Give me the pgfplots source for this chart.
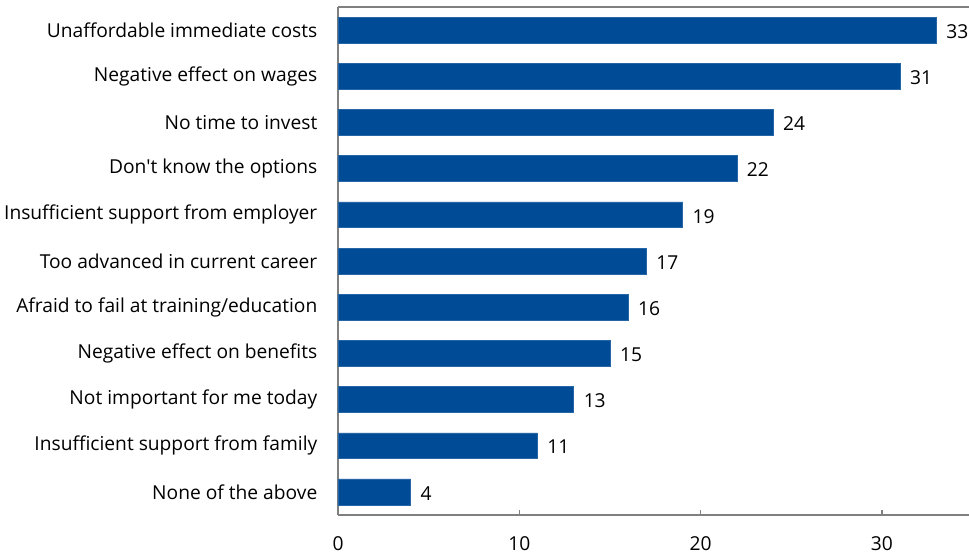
\documentclass[border=0pt]{standalone}
\usepackage{pgfplots}
\pgfplotsset{compat=1.18}
\usepackage{fontspec}
\setmainfont{Open Sans}
\definecolor{barblue}{RGB}{0,75,150}
\definecolor{axgray}{RGB}{128,128,128}
\begin{document}
\begin{tikzpicture}[x=1pt,y=1pt]
\begin{axis}[
  at={(0,0)}, anchor=south west,
  scale only axis,
  width=473.25pt, height=381pt,
  xbar, bar width=0.56,
  xmin=0, xmax=34.8,
  ymin=-0.5, ymax=10.5, y dir=reverse,
  ytick={0,...,10},
  yticklabels={Unaffordable immediate costs,Negative effect on wages,No time to invest,Don\textquotesingle t know the options,Insufficient support from employer,Too advanced in current career,Afraid to fail at training/education,Negative effect on benefits,Not important for me today,Insufficient support from family,None of the above},
  xtick={0,10,20,30},
  axis x line*=bottom, axis y line*=left,
  axis line style={axgray, line width=0.9pt},
  x axis line style={-}, y axis line style={-},
  major tick length=4pt,
  xtick style={axgray, line width=0.9pt},
  tick align=inside,
  ytick style={draw=none},
  font=\fontsize{14.4}{16}\selectfont,
  ticklabel style={font=\fontsize{14.4}{16}\selectfont, text=black},
  /pgf/number format/assume math mode=true,
  yticklabel style={xshift=-12pt},
  xticklabel style={yshift=-13pt},
  nodes near coords,
  nodes near coords style={anchor=west, xshift=4pt, yshift=-1pt, font=\fontsize{14.4}{16}\selectfont, text=black},
  clip=false,
]
\addplot[fill=barblue, draw=barblue!85!white, line width=0.4pt] coordinates {
(33,0) (31,1) (24,2) (22,3) (19,4) (17,5) (16,6) (15,7) (13,8) (11,9) (4,10)};
\draw[axgray, line width=0.9pt] (rel axis cs:0,1) -- (rel axis cs:1,1);
\end{axis}
\pgfresetboundingbox
\useasboundingbox (-253.5pt,-29.25pt) rectangle (473.25pt,386.25pt);
\end{tikzpicture}
\end{document}
